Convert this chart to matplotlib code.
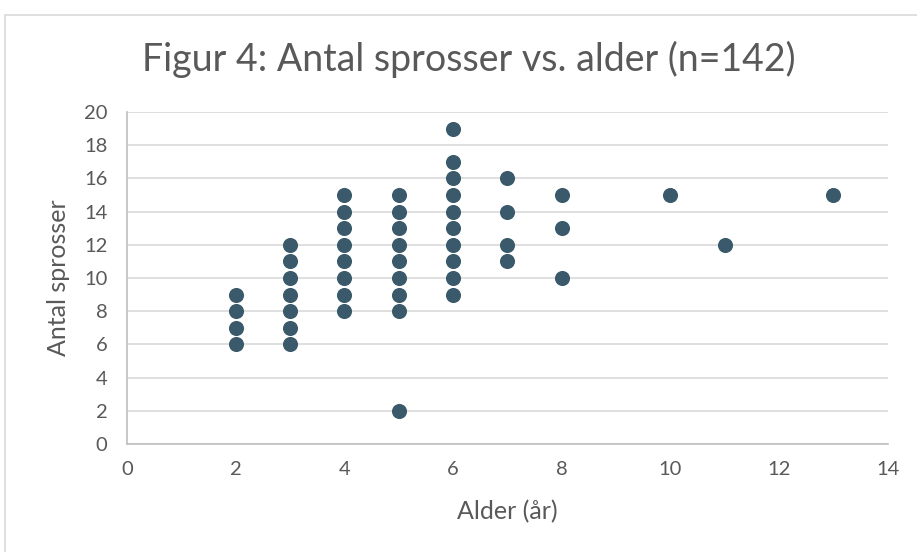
import matplotlib
matplotlib.use("Agg")
import matplotlib.pyplot as plt
from matplotlib.patches import Rectangle

# ── data: distinct (age, count) points ──
alder = [2, 2, 2, 2,
         3, 3, 3, 3, 3, 3, 3,
         4, 4, 4, 4, 4, 4, 4, 4,
         5, 5, 5, 5, 5, 5, 5, 5, 5,
         6, 6, 6, 6, 6, 6, 6, 6, 6, 6,
         7, 7, 7, 7,
         8, 8, 8,
         10, 11, 13]
sprosser = [6, 7, 8, 9,
            6, 7, 8, 9, 10, 11, 12,
            8, 9, 10, 11, 12, 13, 14, 15,
            2, 8, 9, 10, 11, 12, 13, 14, 15,
            9, 10, 11, 12, 13, 14, 15, 16, 17, 19,
            11, 12, 14, 16,
            10, 13, 15,
            15, 12, 15]
x_ticks = [0, 2, 4, 6, 8, 10, 12, 14]
y_ticks = [0, 2, 4, 6, 8, 10, 12, 14, 16, 18, 20]

TXT = "#595959"
plt.rcParams["font.family"] = ["Lato", "DejaVu Sans"]

fig = plt.figure(figsize=(9.17, 5.52), dpi=100)
ax = fig.add_axes([0.1385, 0.1957, 0.8295, 0.6013])

# chart border like Excel
fig.patches.append(Rectangle((5/917, -0.1), 1.0, 1.1 - 15/552, transform=fig.transFigure,
                             fill=False, edgecolor="#D9D9D9", lw=1.2))

ax.scatter(alder, sprosser, s=118, color="#3A5A6B", zorder=3, linewidths=0)

ax.set_xlim(0, 14)
ax.set_ylim(0, 20)
ax.set_xticks(x_ticks)
ax.set_yticks(y_ticks)
ax.tick_params(length=0, labelsize=14.5, colors=TXT)
ax.tick_params(axis="x", pad=12)
ax.tick_params(axis="y", pad=14)
ax.yaxis.grid(True, color="#D9D9D9", lw=1.2)
ax.set_axisbelow(True)
for s in ["top", "right"]:
    ax.spines[s].set_visible(False)
for s in ["left", "bottom"]:
    ax.spines[s].set_color("#BFBFBF")
    ax.spines[s].set_linewidth(1.2)

ax.set_xlabel("Alder (år)", fontsize=18, color=TXT, va="center")
ax.set_ylabel("Antal sprosser", fontsize=18, color=TXT, va="center")
ax.xaxis.set_label_coords(0.5, -0.205)
ax.yaxis.set_label_coords(-0.0907, 0.5)
fig.text(0.5115, 1 - 71/552, "Figur 4: Antal sprosser vs. alder (n=142)",
         ha="center", va="baseline", fontsize=27, color=TXT)

fig.savefig("out.png", dpi=100)
